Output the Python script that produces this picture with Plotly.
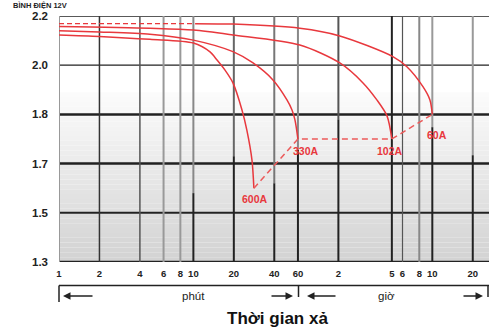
import numpy as np
import plotly.graph_objects as go

# ---------------- data ----------------
volt_ticks = [1.3, 1.5, 1.7, 1.8, 2.0, 2.2]
volt_tick_labels = ["1.3", "1.5", "1.7", "1.8", "2.0", "2.2"]

time_ticks_min = [1, 2, 4, 6, 8, 10, 20, 40, 60, 120, 300, 360, 480, 600, 1200]
time_tick_labels = ["1", "2", "4", "6", "8", "10", "20", "40", "60", "2", "5", "6", "8", "10", "20"]

t_600 = [1, 2, 4.75, 10, 13.3, 15, 17.2, 19.7, 23, 25, 27.3, 28.2]
v_600 = [2.123, 2.117, 2.105, 2.090, 2.054, 2.021, 1.980, 1.928, 1.818, 1.768, 1.707, 1.60]

t_330 = [1, 2, 4.75, 10, 19.7, 27.8, 39.1, 49.7, 54.2, 57, 60]
v_330 = [2.140, 2.135, 2.126, 2.102, 2.055, 2.009, 1.940, 1.859, 1.818, 1.789, 1.75]

t_102 = [1, 4.75, 10, 19.7, 62, 123, 183, 232, 276, 300]
v_102 = [2.157, 2.150, 2.143, 2.123, 2.082, 2.009, 1.928, 1.859, 1.797, 1.75]

t_60_start = [1, 10.3]
v_60_start = [2.169, 2.169]
t_60 = [10.3, 19.7, 62, 123, 305, 388, 511, 576, 600]
v_60 = [2.169, 2.167, 2.150, 2.119, 2.035, 1.994, 1.913, 1.859, 1.80]

end_labels = ["600A", "330A", "102A", "60A"]
end_t = [28.2, 60, 300, 600]
end_v = [1.60, 1.75, 1.75, 1.80]
label_t = [28.7, 69, 290, 649]
label_v = [1.556, 1.726, 1.726, 1.758]

# ---------------- helpers ----------------
POS = [0, 1, 2, 3, 4, 5]


def vpos(v):
    return np.interp(np.asarray(v, dtype=float), volt_ticks, POS)


RED = "#e8383d"
FONT = "Liberation Sans, Arial"
fig = go.Figure()

# background gradient bands (white top -> light grey bottom)
band_edges = np.linspace(0, 3.45, 36)
for i in range(len(band_edges) - 1):
    f = 1 - (band_edges[i] + band_edges[i + 1]) / 2 / 3.45
    c = int(round(252 - 42 * f))
    fig.add_shape(type="rect", xref="paper", yref="y", x0=0, x1=1,
                  y0=band_edges[i], y1=band_edges[i + 1],
                  fillcolor=f"rgb({c},{c},{c})", line_width=0, layer="below")

# vertical grid lines: (minutes, top colour, split position, bottom colour, width)
vlines = [
    (1, "#999", 0, "#999", 2),
    (2, "#333", 0, "#333", 1.5),
    (4, "#555", 0, "#555", 1.5),
    (6, "#999", 0, "#999", 2),
    (8, "#999", 0, "#999", 2),
    (10, "#888", 1.40, "#222", 2),
    (20, "#666", 2.15, "#222", 2),
    (40, "#777", 1.60, "#222", 2),
    (60, "#888", 2.28, "#222", 2),
    (120, "#555", 2.90, "#222", 2),
    (300, "#222", 0, "#222", 2),
    (360, "#555", 0, "#555", 1.2),
    (480, "#888", 0, "#888", 2),
    (600, "#999", 2.74, "#222", 2),
    (1200, "#999", 2.17, "#222", 2),
]
for t, ctop, split, cbot, w in vlines:
    fig.add_shape(type="line", xref="x", yref="y", x0=t, x1=t, y0=split, y1=5,
                  line=dict(color=ctop, width=w), layer="below")
    if split > 0:
        fig.add_shape(type="line", xref="x", yref="y", x0=t, x1=t, y0=0, y1=split,
                      line=dict(color=cbot, width=w), layer="below")

# horizontal grid lines
hwidths = [2.5, 2, 2.5, 2.5, 1.2, 1.5]
for p, w in zip(POS, hwidths):
    fig.add_shape(type="line", xref="paper", yref="y", x0=0, x1=1, y0=p, y1=p,
                  line=dict(color="#222", width=w), layer="below")

# curves
for t, v in [(t_600, v_600), (t_330, v_330), (t_102, v_102), (t_60, v_60)]:
    fig.add_trace(go.Scatter(x=t, y=vpos(v), mode="lines",
                             line=dict(color=RED, width=1.5, shape="spline", smoothing=0.8),
                             hoverinfo="skip", showlegend=False))
fig.add_trace(go.Scatter(x=t_60_start, y=vpos(v_60_start), mode="lines",
                         line=dict(color=RED, width=1.3, dash="5px,3px"),
                         hoverinfo="skip", showlegend=False))
fig.add_trace(go.Scatter(x=end_t, y=vpos(end_v), mode="lines",
                         line=dict(color="#ec5a5a", width=1.5, dash="6px,4px"),
                         hoverinfo="skip", showlegend=False))

for lab, t, v in zip(end_labels, label_t, label_v):
    fig.add_annotation(x=np.log10(t), y=float(vpos(v)), text=f"<b>{lab}</b>", showarrow=False,
                       font=dict(family=FONT, size=10.5, color=RED))

# ---------------- lower annotations ----------------
L, R, T, B = 59, 489, 16, 262
W, H = R - L, B - T


def px(x):
    return (x - L) / W


def py(y):
    return (B - y) / H


axis_line = dict(color="#222", width=1.5)
fig.add_shape(type="line", xref="paper", yref="paper", x0=px(59), x1=px(489), y0=py(285.5), y1=py(285.5), line=axis_line)
for xv, y2 in [(59, 302), (298.5, 297), (488, 297)]:
    fig.add_shape(type="line", xref="paper", yref="paper", x0=px(xv), x1=px(xv), y0=py(285.5), y1=py(y2), line=axis_line)

for head, off in [(63, 31), (293, -23), (307, 30), (483, -21)]:
    fig.add_annotation(xref="paper", yref="paper", x=px(head), y=py(296), ax=off, ay=0,
                       text="", showarrow=True, arrowhead=2, arrowsize=1, arrowwidth=1.5,
                       arrowcolor="#222")

fig.add_annotation(xref="paper", yref="paper", x=px(180), y=py(296), yanchor="middle", text="phút",
                   showarrow=False, font=dict(family=FONT, size=11.5, color="#222"))
fig.add_annotation(xref="paper", yref="paper", x=px(397), y=py(296), yanchor="middle", text="giờ",
                   showarrow=False, font=dict(family=FONT, size=11.5, color="#222"))
fig.add_annotation(xref="paper", yref="paper", x=px(277), y=py(318), yanchor="middle",
                   text="<b>Thời gian xả</b>",
                   showarrow=False, font=dict(family=FONT, size=17, color="#111"))
fig.add_annotation(xref="paper", yref="paper", x=px(11), y=py(5.5), xanchor="left", yanchor="middle",
                   text="<b>BÌNH ĐIỆN 12V</b>", showarrow=False,
                   font=dict(family=FONT, size=7.5, color="#222"))

fig.update_layout(
    width=489, height=327,
    margin=dict(l=L, r=489 - R, t=T, b=327 - B, pad=0, autoexpand=False),
    paper_bgcolor="white", plot_bgcolor="white",
    xaxis=dict(type="log", range=[0, 3.2], showgrid=False, zeroline=False, automargin=False,
               tickvals=time_ticks_min, ticktext=[f"<b>{s}</b>" for s in time_tick_labels],
               tickfont=dict(family=FONT, size=9.5, color="#222"),
               ticks="", ticklabelstandoff=4, showline=False),
    yaxis=dict(range=[0, 5], showgrid=False, zeroline=False, automargin=False,
               tickvals=POS, ticktext=[f"<b>{s}</b>" for s in volt_tick_labels],
               tickfont=dict(family=FONT, size=11.5, color="#222"),
               ticks="", ticklabelstandoff=10, showline=False),
    showlegend=False,
)

fig.write_html("out.html", config={"displayModeBar": False},
               post_script="document.body.style.margin='0';document.body.style.overflow='hidden';")
